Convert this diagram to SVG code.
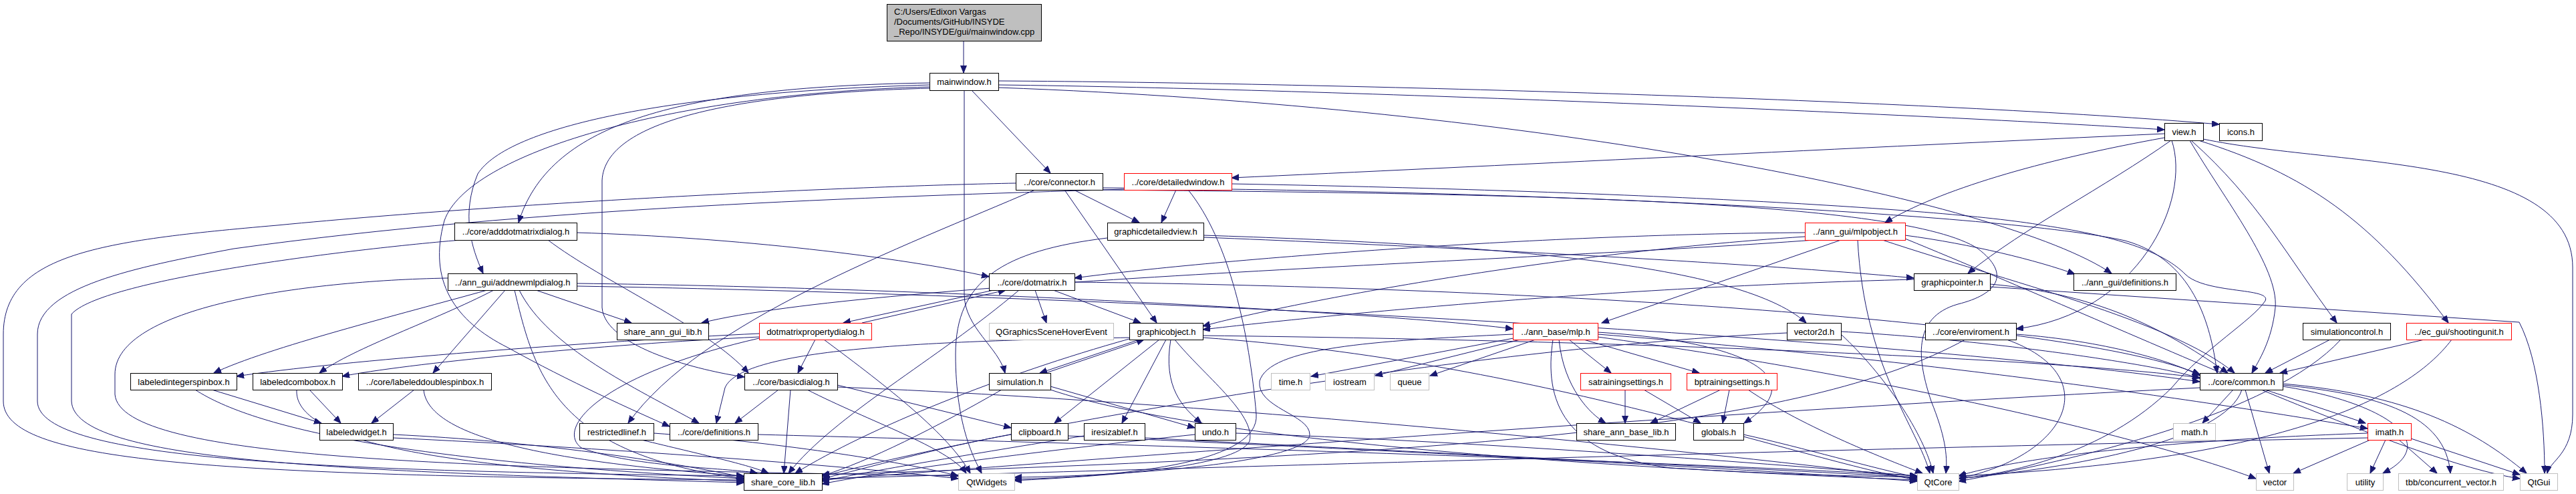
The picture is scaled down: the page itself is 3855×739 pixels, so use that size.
<svg xmlns="http://www.w3.org/2000/svg" width="3855" height="739" viewBox="0 0 3855 739">
<style>
.n rect{fill:#fff;stroke:#000;stroke-width:1}
.r rect{stroke:#f00}
.g rect{stroke:#bfbfbf}
text{font-family:"Liberation Sans",Arial,sans-serif;font-size:13px;text-anchor:middle;fill:#000}
.e path{fill:none;stroke:#191970;stroke-width:1;marker-end:url(#a)}
</style>
<defs>
<marker id="a" markerWidth="12" markerHeight="10" refX="11" refY="4.5" orient="auto" markerUnits="userSpaceOnUse"><path d="M0,0 L11,4.5 L0,9 z" fill="#191970" stroke="#191970"/></marker>
</defs>
<rect width="3855" height="739" fill="#fff"/>
<g id="edges" class="e">
<path d="M1442,61 L1442,109"/>
<path d="M1454,135 L1572,259"/>
<path d="M1494,121 C2000,124 2900,150 3321,186"/>
<path d="M1494,127 C2000,133 2900,172 3239,194"/>
<path d="M1494,131 C2300,160 3000,300 3160,409"/>
<path d="M1391,124 C1000,130 820,190 776,333"/>
<path d="M1391,127 C1000,138 760,190 715,260 C690,320 705,370 723,409"/>
<path d="M1443,135 L1443,440 C1443,490 1495,520 1504,558"/>
<path d="M1391,132 C1100,140 905,180 901,270 L901,460 C905,520 1050,555 1114,564"/>
<path d="M1391,130 C1000,140 700,230 665,330 C640,420 680,480 760,520 C850,570 950,615 1002,638"/>
<path d="M3239,200 C2800,220 2200,250 1843,266"/>
<path d="M3239,206 C3050,240 2900,285 2821,333"/>
<path d="M3249,210 C3150,280 3030,340 2945,409"/>
<path d="M3250,210 C3280,300 3200,470 3017,492"/>
<path d="M3277,210 C3330,300 3410,400 3405,460 C3400,510 3380,540 3370,558"/>
<path d="M3279,210 C3380,300 3420,380 3497,483"/>
<path d="M3290,210 C3450,260 3550,330 3664,483"/>
<path d="M3297,208 C3500,250 3850,230 3850,400 L3850,620 C3850,680 3815,690 3812,708"/>
<path d="M1607,284 L1705,333"/>
<path d="M1593,284 L1731,483"/>
<path d="M1549,284 C1350,370 1050,480 940,633"/>
<path d="M1520,274 C1300,278 800,300 415,337 C150,360 5,380 5,500 L5,600 C5,690 300,712 1113,718"/>
<path d="M1650,281 C2300,285 3000,320 3180,360 C3290,390 3310,500 3318,558"/>
<path d="M1650,284 C2300,290 2850,300 2960,372 C3010,410 2990,440 2930,455 C2860,475 2870,540 2890,600 C2910,650 2915,680 2912,708"/>
<path d="M1760,284 L1738,333"/>
<path d="M1682,283 C1300,295 800,310 350,372 C200,400 56,430 56,500 L56,600 C56,690 500,705 1113,712"/>
<path d="M1843,275 C2400,285 2900,310 3057,337 C3180,355 3240,380 3270,410 C3300,440 3400,430 3390,450 C3370,480 3300,520 3250,580 C3150,680 3000,710 2931,716"/>
<path d="M1778,284 C1840,360 1870,500 1880,620 C1885,690 1700,712 1518,717"/>
<path d="M1657,356 C1500,375 1430,420 1430,530 C1430,640 1460,690 1469,708"/>
<path d="M1801,352 C2200,365 2600,390 2703,483"/>
<path d="M1801,355 C2300,375 2700,400 2864,416"/>
<path d="M2701,348 C2300,350 1800,390 1608,416"/>
<path d="M2701,354 C2300,380 1900,460 1800,488"/>
<path d="M2755,359 L2397,483"/>
<path d="M2715,359 C2300,390 1300,420 1050,483"/>
<path d="M2851,352 C2950,365 3050,390 3105,410"/>
<path d="M2817,359 C3000,420 3250,480 3344,558"/>
<path d="M2780,359 C2790,550 2870,640 2888,708"/>
<path d="M2851,357 C3200,500 3600,690 3771,716"/>
<path d="M729,434 C600,470 400,520 320,558"/>
<path d="M739,434 C650,480 530,520 478,558"/>
<path d="M756,434 L648,558"/>
<path d="M802,434 L945,483"/>
<path d="M777,434 C820,520 950,580 1046,633"/>
<path d="M770,434 C800,560 830,680 1113,716"/>
<path d="M863,424 C1400,430 2100,470 2264,492"/>
<path d="M863,428 C1600,440 2800,500 3292,571"/>
<path d="M670,416 C450,420 172,460 172,560 L172,590 C180,690 700,700 1434,712"/>
<path d="M863,348 C1100,355 1350,385 1480,414"/>
<path d="M820,359 C900,420 1060,490 1120,558"/>
<path d="M690,359 C500,375 150,420 107,470 L107,600 C110,690 500,705 1113,722"/>
<path d="M1549,434 L1566,483"/>
<path d="M1576,434 L1707,483"/>
<path d="M1487,434 L1262,483"/>
<path d="M1290,483 L1505,434"/>
<path d="M1525,434 C1400,540 1250,620 1180,708"/>
<path d="M1608,422 C2300,430 3100,480 3292,560"/>
<path d="M1220,508 L1194,558"/>
<path d="M1136,499 C900,510 500,540 354,563"/>
<path d="M1136,504 C900,515 600,545 512,563"/>
<path d="M1233,508 C1330,580 1420,650 1452,708"/>
<path d="M1136,506 C900,560 830,640 870,670 C950,700 1100,700 1133,708"/>
<path d="M1165,583 L1100,633"/>
<path d="M1183,583 L1173,708"/>
<path d="M1208,583 C1300,630 1420,670 1446,708"/>
<path d="M1253,579 C1800,600 2600,680 2869,716"/>
<path d="M1253,576 L1513,640"/>
<path d="M960,658 C1050,680 1120,695 1150,708"/>
<path d="M978,648 C1150,660 1350,690 1434,712"/>
<path d="M1134,650 C1700,665 2500,690 2869,712"/>
<path d="M317,583 L481,633"/>
<path d="M292,583 C380,640 600,690 1113,716"/>
<path d="M463,583 L510,633"/>
<path d="M444,583 C440,650 600,700 1113,720"/>
<path d="M620,583 L556,633"/>
<path d="M634,583 C640,650 800,690 1113,712"/>
<path d="M588,650 C800,660 1000,690 1113,714"/>
<path d="M588,655 C900,670 1250,695 1434,716"/>
<path d="M1705,508 L1556,558"/>
<path d="M1565,558 L1712,508"/>
<path d="M1735,508 L1578,633"/>
<path d="M1745,508 L1679,633"/>
<path d="M1752,508 C1740,580 1770,610 1798,633"/>
<path d="M1758,508 C1800,560 1880,620 1870,660 C1850,700 1650,712 1518,719"/>
<path d="M1690,505 C1400,510 1110,520 1085,580 L1072,633"/>
<path d="M1690,507 C1500,560 1300,640 1190,708"/>
<path d="M1800,502 C2500,510 3100,540 3292,565"/>
<path d="M1800,505 C2300,540 2700,690 2869,718"/>
<path d="M1572,578 L1788,640"/>
<path d="M1499,583 C1400,640 1300,690 1230,712"/>
<path d="M1572,583 C1800,660 2400,700 2869,718"/>
<path d="M1513,650 C1400,670 1300,700 1230,716"/>
<path d="M1598,652 C2000,670 2600,700 2869,720"/>
<path d="M1622,652 C1450,680 1300,705 1230,720"/>
<path d="M1713,655 C2100,675 2600,700 2869,714"/>
<path d="M1788,650 C1600,670 1350,700 1230,724"/>
<path d="M1849,648 C2200,660 2600,690 2869,712"/>
<path d="M2270,505 L1962,563"/>
<path d="M2275,508 L2058,562"/>
<path d="M2298,508 L2140,562"/>
<path d="M2348,508 L2411,558"/>
<path d="M2370,508 L2543,558"/>
<path d="M2333,508 C2340,580 2380,620 2403,633"/>
<path d="M2324,508 C2310,600 2340,680 2500,700 C2700,712 2800,712 2869,714"/>
<path d="M2391,497 C2600,510 2720,560 2610,633"/>
<path d="M2391,504 C2800,560 3200,650 3376,716"/>
<path d="M2391,500 C2900,540 3300,600 3543,641"/>
<path d="M2264,500 C2050,510 1900,520 1885,570 C1880,610 1960,620 1960,650 C1960,690 1700,712 1518,714"/>
<path d="M2432,583 L2432,633"/>
<path d="M2460,583 L2545,633"/>
<path d="M2575,583 L2470,633"/>
<path d="M2588,583 L2578,633"/>
<path d="M2616,583 C2700,640 2830,690 2877,708"/>
<path d="M2609,650 C2700,670 2800,700 2869,714"/>
<path d="M2864,418 C2400,430 2000,470 1800,493"/>
<path d="M2978,425 C3150,440 3250,500 3334,558"/>
<path d="M2978,429 L3770,482 C3800,540 3808,640 3808,708"/>
<path d="M2755,500 C2820,560 2880,650 2893,708"/>
<path d="M2755,496 C3000,510 3250,550 3292,566"/>
<path d="M2674,498 C2200,520 1500,640 1230,713"/>
<path d="M3003,508 C3150,560 3100,680 2931,716"/>
<path d="M3017,500 C3150,510 3250,540 3292,562"/>
<path d="M2941,508 C2700,640 2200,680 1230,710"/>
<path d="M3487,508 L3390,558"/>
<path d="M3503,508 C3400,620 3100,690 2931,720"/>
<path d="M3628,508 L3412,558"/>
<path d="M3669,508 C3600,600 3400,690 2931,712"/>
<path d="M3342,583 L3296,633"/>
<path d="M3360,583 L3396,708"/>
<path d="M3416,578 C3560,600 3660,660 3566,708"/>
<path d="M3416,576 C3560,590 3660,620 3667,708"/>
<path d="M3416,574 C3600,590 3700,640 3781,708"/>
<path d="M3390,583 L3540,633"/>
<path d="M3355,583 C3330,660 3100,700 2931,716"/>
<path d="M3292,580 C2500,620 1600,690 1230,718"/>
<path d="M3547,658 L3432,708"/>
<path d="M3570,658 L3547,708"/>
<path d="M3590,658 L3647,708"/>
<path d="M3608,656 L3771,710"/>
<path d="M3543,648 C3200,660 3000,690 2931,712"/>
<path d="M3543,655 C2800,670 1800,700 1230,716"/>
</g>
<g id="n_root" class="n"><rect x="1327.5" y="6.5" width="231" height="55" style="fill:#bfbfbf"/><text x="1338" y="21.5" style="text-anchor:start">C:/Users/Edixon Vargas</text><text x="1338" y="36.5" style="text-anchor:start">/Documents/GitHub/INSYDE</text><text x="1338" y="51.5" style="text-anchor:start">_Repo/INSYDE/gui/mainwindow.cpp</text></g>
<g id="n_mainwindow" class="n"><rect x="1391.5" y="109.5" width="103" height="26"/><text x="1443" y="127">mainwindow.h</text></g>
<g id="n_view" class="n"><rect x="3239.5" y="184.5" width="58" height="26"/><text x="3268.5" y="202">view.h</text></g>
<g id="n_icons" class="n"><rect x="3321.5" y="184.5" width="64" height="26"/><text x="3353.5" y="202">icons.h</text></g>
<g id="n_connector" class="n"><rect x="1520.5" y="259.5" width="130" height="25"/><text x="1585.5" y="276.5">../core/connector.h</text></g>
<g id="n_detailedwindow" class="n r"><rect x="1682.5" y="259.5" width="161" height="25"/><text x="1763" y="276.5">../core/detailedwindow.h</text></g>
<g id="n_graphicdetailedview" class="n"><rect x="1657.5" y="333.5" width="144" height="26"/><text x="1729.5" y="351">graphicdetailedview.h</text></g>
<g id="n_adddotmatrixdialog" class="n"><rect x="680.5" y="333.5" width="183" height="26"/><text x="772" y="351">../core/adddotmatrixdialog.h</text></g>
<g id="n_mlpobject" class="n r"><rect x="2701.5" y="333.5" width="150" height="26"/><text x="2776.5" y="351">../ann_gui/mlpobject.h</text></g>
<g id="n_addnewmlpdialog" class="n"><rect x="670.5" y="409.5" width="193" height="25"/><text x="767" y="426.5">../ann_gui/addnewmlpdialog.h</text></g>
<g id="n_dotmatrix" class="n"><rect x="1480.5" y="409.5" width="128" height="25"/><text x="1544.5" y="426.5">../core/dotmatrix.h</text></g>
<g id="n_graphicpointer" class="n"><rect x="2864.5" y="409.5" width="114" height="25"/><text x="2921.5" y="426.5">graphicpointer.h</text></g>
<g id="n_anngui_definitions" class="n"><rect x="3103.5" y="409.5" width="153" height="25"/><text x="3180" y="426.5">../ann_gui/definitions.h</text></g>
<g id="n_share_ann_gui_lib" class="n"><rect x="923.5" y="483.5" width="137" height="25"/><text x="992" y="500.5">share_ann_gui_lib.h</text></g>
<g id="n_dotmatrixpropertydialog" class="n r"><rect x="1136.5" y="483.5" width="168" height="25"/><text x="1220.5" y="500.5">dotmatrixpropertydialog.h</text></g>
<g id="n_qgraphicsscenehoverevent" class="n g"><rect x="1480.5" y="483.5" width="186" height="25"/><text x="1573.5" y="500.5">QGraphicsSceneHoverEvent</text></g>
<g id="n_graphicobject" class="n"><rect x="1690.5" y="483.5" width="110" height="25"/><text x="1745.5" y="500.5">graphicobject.h</text></g>
<g id="n_mlp" class="n r"><rect x="2264.5" y="483.5" width="127" height="25"/><text x="2328" y="500.5">../ann_base/mlp.h</text></g>
<g id="n_vector2d" class="n"><rect x="2674.5" y="483.5" width="81" height="25"/><text x="2715" y="500.5">vector2d.h</text></g>
<g id="n_enviroment" class="n"><rect x="2881.5" y="483.5" width="136" height="25"/><text x="2949.5" y="500.5">../core/enviroment.h</text></g>
<g id="n_simulationcontrol" class="n"><rect x="3446.5" y="483.5" width="131" height="25"/><text x="3512" y="500.5">simulationcontrol.h</text></g>
<g id="n_shootingunit" class="n r"><rect x="3601.5" y="483.5" width="157" height="25"/><text x="3680" y="500.5">../ec_gui/shootingunit.h</text></g>
<g id="n_labeledintegerspinbox" class="n"><rect x="195.5" y="558.5" width="159" height="25"/><text x="275" y="575.5">labeledintegerspinbox.h</text></g>
<g id="n_labeledcombobox" class="n"><rect x="378.5" y="558.5" width="134" height="25"/><text x="445.5" y="575.5">labeledcombobox.h</text></g>
<g id="n_labeleddoublespinbox" class="n"><rect x="536.5" y="558.5" width="199" height="25"/><text x="636" y="575.5">../core/labeleddoublespinbox.h</text></g>
<g id="n_basicdialog" class="n"><rect x="1114.5" y="558.5" width="139" height="25"/><text x="1184" y="575.5">../core/basicdialog.h</text></g>
<g id="n_simulation" class="n"><rect x="1480.5" y="558.5" width="92" height="25"/><text x="1526.5" y="575.5">simulation.h</text></g>
<g id="n_time" class="n g"><rect x="1902.5" y="558.5" width="58" height="25"/><text x="1931.5" y="575.5">time.h</text></g>
<g id="n_iostream" class="n g"><rect x="1983.5" y="558.5" width="73" height="25"/><text x="2020" y="575.5">iostream</text></g>
<g id="n_queue" class="n g"><rect x="2080.5" y="558.5" width="58" height="25"/><text x="2109.5" y="575.5">queue</text></g>
<g id="n_satrainingsettings" class="n r"><rect x="2365.5" y="558.5" width="135" height="25"/><text x="2433" y="575.5">satrainingsettings.h</text></g>
<g id="n_bptrainingsettings" class="n r"><rect x="2524.5" y="558.5" width="135" height="25"/><text x="2592" y="575.5">bptrainingsettings.h</text></g>
<g id="n_common" class="n"><rect x="3292.5" y="558.5" width="124" height="25"/><text x="3354.5" y="575.5">../core/common.h</text></g>
<g id="n_labeledwidget" class="n"><rect x="478.5" y="633.5" width="110" height="25"/><text x="533.5" y="650.5">labeledwidget.h</text></g>
<g id="n_restrictedlinef" class="n"><rect x="867.5" y="633.5" width="111" height="25"/><text x="923" y="650.5">restrictedlinef.h</text></g>
<g id="n_definitions" class="n"><rect x="1002.5" y="633.5" width="132" height="25"/><text x="1068.5" y="650.5">../core/definitions.h</text></g>
<g id="n_clipboard" class="n"><rect x="1513.5" y="633.5" width="85" height="25"/><text x="1556" y="650.5">clipboard.h</text></g>
<g id="n_iresizablef" class="n"><rect x="1622.5" y="633.5" width="91" height="25"/><text x="1668" y="650.5">iresizablef.h</text></g>
<g id="n_undo" class="n"><rect x="1788.5" y="633.5" width="61" height="25"/><text x="1819" y="650.5">undo.h</text></g>
<g id="n_share_ann_base_lib" class="n"><rect x="2359.5" y="633.5" width="148" height="25"/><text x="2433.5" y="650.5">share_ann_base_lib.h</text></g>
<g id="n_globals" class="n"><rect x="2534.5" y="633.5" width="75" height="25"/><text x="2572" y="650.5">globals.h</text></g>
<g id="n_math" class="n g"><rect x="3252.5" y="633.5" width="63" height="25"/><text x="3284" y="650.5">math.h</text></g>
<g id="n_imath" class="n r"><rect x="3543.5" y="633.5" width="65" height="25"/><text x="3576" y="650.5">imath.h</text></g>
<g id="n_share_core_lib" class="n"><rect x="1113.5" y="708.5" width="117" height="25"/><text x="1172" y="725.5">share_core_lib.h</text></g>
<g id="n_qtwidgets" class="n g"><rect x="1434.5" y="708.5" width="84" height="25"/><text x="1476.5" y="725.5">QtWidgets</text></g>
<g id="n_qtcore" class="n g"><rect x="2869.5" y="708.5" width="62" height="25"/><text x="2900.5" y="725.5">QtCore</text></g>
<g id="n_vector" class="n g"><rect x="3376.5" y="708.5" width="56" height="25"/><text x="3404.5" y="725.5">vector</text></g>
<g id="n_utility" class="n g"><rect x="3512.5" y="708.5" width="54" height="25"/><text x="3539.5" y="725.5">utility</text></g>
<g id="n_tbb" class="n g"><rect x="3589.5" y="708.5" width="157" height="25"/><text x="3668" y="725.5">tbb/concurrent_vector.h</text></g>
<g id="n_qtgui" class="n g"><rect x="3771.5" y="708.5" width="56" height="25"/><text x="3799.5" y="725.5">QtGui</text></g>
</svg>
